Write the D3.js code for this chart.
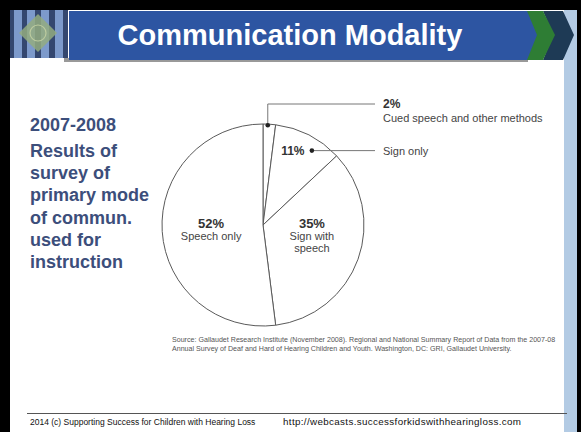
<!DOCTYPE html>
<html>
<head>
<meta charset="utf-8">
<script src="https://cdn.jsdelivr.net/npm/d3@7"></script>
<style>
  body { margin: 0; background: #fff; }
  svg { display: block; font-family: Arial, "Liberation Sans", sans-serif; }
</style>
</head>
<body>
<div id="chart"></div>
<script>
'use strict'

// Survey 2007-08, primary mode of communication used for instruction
var categories = ['Cued speech and other methods', 'Sign only', 'Sign with speech', 'Speech only']
var values     = [2, 11, 35, 52]
var pctLabels  = ['2%', '11%', '35%', '52%']
var nameLines  = [['Cued speech and other methods'], ['Sign only'], ['Sign with', 'speech'], ['Speech only']]

var sideLines = ['2007-2008', 'Results of', 'survey of', 'primary mode', 'of commun.', 'used for', 'instruction']
var sourceLines = [
  'Source: Gallaudet Research Institute (November 2008). Regional and National Summary Report of Data from the 2007-08',
  'Annual Survey of Deaf and Hard of Hearing Children and Youth. Washington, DC: GRI, Gallaudet University.'
]
var footLeft  = '2014 (c) Supporting Success for Children with Hearing Loss'
var footRight = 'http://webcasts.successforkidswithhearingloss.com'

var W = 581, H = 432
var svg = d3.select('#chart').append('svg')
  .attr('width', W)
  .attr('height', H)

//--- slide frame ---
svg.append('rect').attr('x', 0).attr('y', 0).attr('width', W).attr('height', 10).attr('fill', '#000')
svg.append('rect').attr('x', 0).attr('y', 0).attr('width', 10).attr('height', H).attr('fill', '#000')
svg.append('rect').attr('x', 577).attr('y', 0).attr('width', 4).attr('height', H).attr('fill', '#000')
svg.append('rect').attr('x', 564).attr('y', 10).attr('width', 13).attr('height', H - 10).attr('fill', '#b3cbe4')

// logo (rough)
var logo = svg.append('g')
logo.append('rect').attr('x', 10).attr('y', 10).attr('width', 58).attr('height', 48).attr('fill', '#34476f')
;[14, 27, 41, 55].forEach(function(x) {
  logo.append('rect').attr('x', x).attr('y', 10).attr('width', 8).attr('height', 48).attr('fill', '#7d9acb')
})
logo.append('path').attr('d', 'M38,14 L57,33 L38,52 L19,33 Z').attr('fill', '#93ab80').attr('opacity', 0.85)
logo.append('circle').attr('cx', 38).attr('cy', 33).attr('r', 8).attr('fill', 'none').attr('stroke', '#bccb9f').attr('stroke-width', 1.2)

// banner + chevrons
svg.append('path').attr('d', 'M64,58 L528,58 L528,62 L64,62 Z').attr('fill', '#555').attr('opacity', 0.6)
svg.append('path').attr('d', 'M543,11 L563,11 L574,35 L563,60 L543,60 L553,35 Z').attr('fill', '#1e3a55')
svg.append('path').attr('d', 'M521,11 L543,11 L555,35 L543,60 L521,60 L532,35 Z').attr('fill', '#2e7d34')
svg.append('path').attr('d', 'M69,11 L527,11 L537,35 L527,60 L69,60 Z').attr('fill', '#2d55a2')
svg.append('text')
  .attr('x', 290).attr('y', 45)
  .attr('text-anchor', 'middle')
  .attr('fill', '#fff')
  .attr('font-size', 29)
  .attr('font-weight', 'bold')
  .text('Communication Modality')

//--- side text ---
var side = svg.append('g').attr('fill', '#3c4e7b').attr('font-weight', 'bold').attr('font-size', 18)
sideLines.forEach(function(s, i) {
  side.append('text')
    .attr('x', 30)
    .attr('y', i == 0 ? 131 : 157 + (i - 1) * 22.2)
    .text(s)
})

//--- pie ---
var cx = 263, cy = 225, R = 101
var g = svg.append('g').attr('transform', 'translate(' + cx + ',' + cy + ')')

var pie = d3.pie().sort(null).value(function(d) { return d })
var arcs = pie(values)
var arc = d3.arc().innerRadius(0).outerRadius(R)
var midArc = d3.arc().innerRadius(52).outerRadius(52)
var nearArc = d3.arc().innerRadius(79).outerRadius(79)
var edgeArc = d3.arc().innerRadius(R - 1).outerRadius(R - 1)

g.selectAll('path.slice')
  .data(arcs)
  .enter().append('path')
  .attr('class', 'slice')
  .attr('d', arc)
  .attr('fill', '#fff')
  .attr('stroke', '#5a5a5a')
  .attr('stroke-width', 1)

// big slices: label inside, x from centroid, tops aligned
arcs.forEach(function(a, i) {
  if (values[i] < 20) return
  var c = midArc.centroid(a)
  g.append('text')
    .attr('x', c[0]).attr('y', 2.5)
    .attr('text-anchor', 'middle')
    .attr('font-weight', 'bold').attr('font-size', 13).attr('fill', '#333')
    .text(pctLabels[i])
  nameLines[i].forEach(function(s, j) {
    g.append('text')
      .attr('x', c[0]).attr('y', 15 + j * 12.3)
      .attr('text-anchor', 'middle')
      .attr('font-size', 11).attr('fill', '#444')
      .text(s)
  })
})

// callouts
var textX = 383, lineEnd = 375
var callout = svg.append('g')

// 2% slice: dot on the rim, elbow up then right
var p2 = edgeArc.centroid(arcs[0])
var dot2 = [cx + p2[0] - 1.5, cy + p2[1]]
callout.append('path')
  .attr('d', 'M' + dot2[0] + ',' + dot2[1] + ' L' + dot2[0] + ',104 L' + lineEnd + ',104')
  .attr('fill', 'none').attr('stroke', '#777').attr('stroke-width', 1)
callout.append('circle').attr('cx', dot2[0]).attr('cy', dot2[1]).attr('r', 2.3).attr('fill', '#222')
callout.append('text').attr('x', textX).attr('y', 108)
  .attr('font-weight', 'bold').attr('font-size', 12).attr('fill', '#333').text(pctLabels[0])
callout.append('text').attr('x', textX).attr('y', 122)
  .attr('font-size', 11).attr('fill', '#444').text(nameLines[0][0])

// 11% slice: label inside, dot, line right
var p11 = nearArc.centroid(arcs[1])
var t11 = [cx + p11[0] - 6, cy + p11[1] - 4]
callout.append('text').attr('x', t11[0]).attr('y', t11[1] + 4.5)
  .attr('text-anchor', 'middle')
  .attr('font-weight', 'bold').attr('font-size', 12).attr('fill', '#333').text(pctLabels[1])
var dot11 = [t11[0] + 19, t11[1]]
callout.append('line')
  .attr('x1', dot11[0]).attr('y1', dot11[1]).attr('x2', lineEnd).attr('y2', dot11[1])
  .attr('stroke', '#777').attr('stroke-width', 1)
callout.append('circle').attr('cx', dot11[0]).attr('cy', dot11[1]).attr('r', 2.3).attr('fill', '#222')
callout.append('text').attr('x', textX).attr('y', dot11[1] + 4)
  .attr('font-size', 11).attr('fill', '#444').text(nameLines[1][0])

//--- source ---
var src = svg.append('g').attr('font-size', 7.1).attr('fill', '#555')
sourceLines.forEach(function(s, i) {
  src.append('text').attr('x', 172).attr('y', 342 + i * 9).text(s)
})

//--- footer ---
svg.append('line')
  .attr('x1', 27).attr('x2', 567).attr('y1', 413.5).attr('y2', 413.5)
  .attr('stroke', '#555').attr('stroke-width', 1)
svg.append('text').attr('x', 30).attr('y', 425).attr('font-size', 8.5).attr('fill', '#111').text(footLeft)
svg.append('text').attr('x', 283).attr('y', 425).attr('font-size', 9.8).attr('fill', '#111')
  .attr('textLength', 238).attr('lengthAdjust', 'spacing').text(footRight)
</script>
</body>
</html>
